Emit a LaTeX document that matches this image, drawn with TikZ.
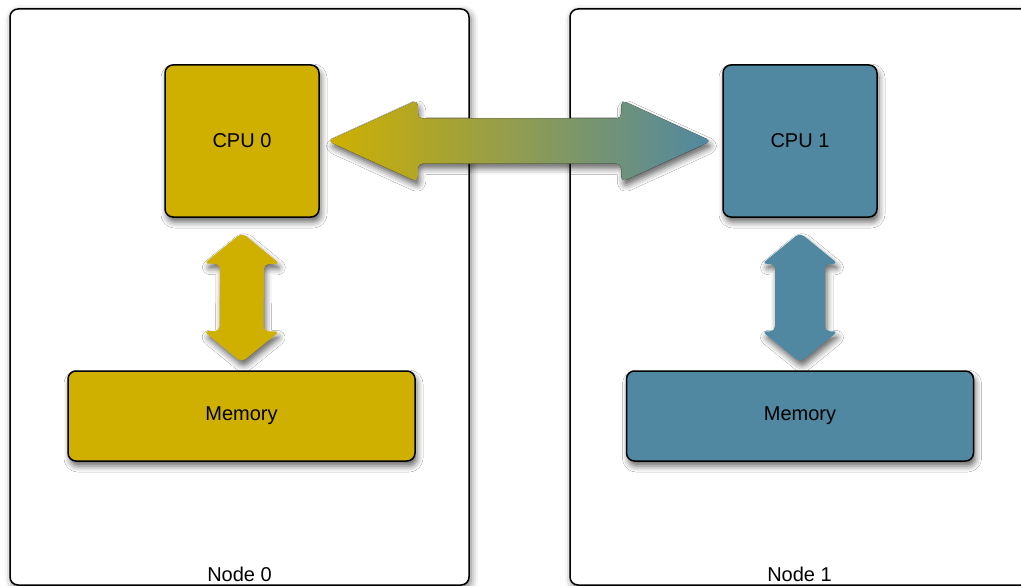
\documentclass[tikz,border=0pt]{standalone}
\usepackage{fontspec}
\setmainfont{Liberation Sans}
\usetikzlibrary{positioning,calc,shadows.blur}

\definecolor{cpuyellow}{RGB}{207,176,0}
\definecolor{cpublue}{RGB}{80,136,162}

% fat double arrow between two points: style, from, to, head length, shaft half width, head half width
\newcommand{\fatarrow}[6]{%
    \coordinate (fa1) at ($(#2)!#4!(#3)$);
    \coordinate (fa2) at ($(#3)!#4!(#2)$);
    \fill[rounded corners=5pt, blur shadow={shadow xshift=2pt, shadow yshift=-5pt, shadow blur radius=6pt, shadow opacity=60}, #1]
        (#2) -- ($(fa1)!#6!90:(#3)$) -- ($(fa1)!#5!90:(#3)$)
        -- ($(fa2)!#5!-90:(#2)$) -- ($(fa2)!#6!-90:(#2)$) -- (#3)
        -- ($(fa2)!#6!90:(#2)$) -- ($(fa2)!#5!90:(#2)$)
        -- ($(fa1)!#5!-90:(#3)$) -- ($(fa1)!#6!-90:(#3)$) -- cycle;
}

\begin{document}
\begin{tikzpicture}[x=1pt, y=-1pt,
    every node/.style={font=\fontsize{20}{24}\selectfont},
    hostbox/.style={draw, line width=1.5pt, rounded corners=8pt, fill=white,
        blur shadow={shadow xshift=2pt, shadow yshift=-3pt, shadow blur radius=7pt, shadow opacity=55}},
    unitbox/.style={draw, line width=1.5pt, rounded corners=8pt,
        blur shadow={shadow xshift=2pt, shadow yshift=-5pt, shadow blur radius=6pt, shadow opacity=60}},
    hostlabel/.style={inner sep=4pt}]
    \useasboundingbox (0,0) rectangle (1021,586);

    % the two hosts
    \node[hostbox, minimum width=459pt, minimum height=576pt] (node0) at (239.5,297) {};
    \node[hostbox, minimum width=459pt, minimum height=576pt] (node1) at (799.5,297) {};
    \node[hostlabel, above=0pt of node0.south] (label0) {Node 0};
    \node[hostlabel, above=0pt of node1.south] (label1) {Node 1};

    % processors and memories
    \node[unitbox, fill=cpuyellow, minimum width=154pt, minimum height=152pt] (cpu0) at (242,141) {CPU 0};
    \node[unitbox, fill=cpublue, minimum width=154pt, minimum height=152pt] (cpu1) at (800,141) {CPU 1};
    \node[unitbox, fill=cpuyellow, minimum width=347pt, minimum height=90pt] (mem0) at (241.5,416) {Memory};
    \node[unitbox, fill=cpublue, minimum width=347pt, minimum height=90pt] (mem1) at (800,416) {Memory};

    % arrow ends
    \coordinate (bus0) at ([xshift=8pt]cpu0.east);
    \coordinate (bus1) at ([xshift=-11pt]cpu1.west);
    \coordinate (top0) at ([yshift=-15pt]cpu0.south);
    \coordinate (bot0) at ([yshift=8pt]mem0.north);
    \coordinate (top1) at ([yshift=-15pt]cpu1.south);
    \coordinate (bot1) at ([yshift=8pt]mem1.north);

    \fatarrow{left color=cpuyellow, right color=cpublue}{bus0}{bus1}{90pt}{22.5pt}{41pt}
    \fatarrow{cpuyellow}{top0}{bot0}{31pt}{22pt}{38pt}
    \fatarrow{cpublue}{top1}{bot1}{31pt}{25pt}{38pt}
\end{tikzpicture}
\end{document}
